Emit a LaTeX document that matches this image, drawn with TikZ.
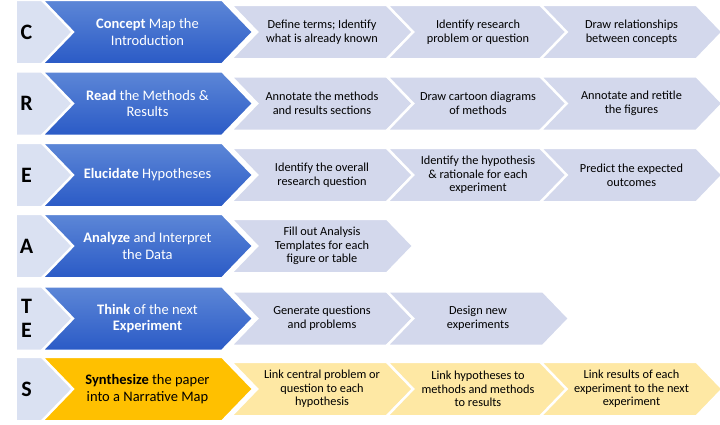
\documentclass[tikz,border=0pt]{standalone}
\usepackage{fontspec}
\setmainfont{Carlito}
\usetikzlibrary{shapes.symbols, positioning}
\definecolor{CRltr}{HTML}{DAE1F2}
\definecolor{CRgray}{HTML}{D3D8EC}
\definecolor{CRblueT}{HTML}{5D87D7}
\definecolor{CRblueB}{HTML}{2A5AC6}
\definecolor{CRgold}{HTML}{FFC000}
\definecolor{CRpale}{HTML}{FEE8A4}
\newcommand{\ltrtext}[1]{#1\hspace*{19pt}}
\tikzset{
  crshape/.style={signal, signal pointer angle=92, draw=white, line width=2.5pt,
    inner sep=0pt, align=center},
  crletter/.style={crshape, signal to=east, fill=CRltr, minimum width=72pt,
    minimum height=64.5pt, font=\fontsize{22}{24}\selectfont\bfseries},
  crmain/.style={crshape, signal from=west, signal to=east, top color=CRblueT,
    bottom color=CRblueB, text=white, minimum width=211.5pt, minimum height=64.5pt,
    font=\fontsize{14.5}{16.3}\selectfont},
  crsynth/.style={crmain, top color=CRgold, bottom color=CRgold, text=black},
  crtask/.style={crshape, signal from=west, signal to=east, fill=CRgray,
    minimum width=182.5pt, minimum height=54.5pt, font=\fontsize{12.3}{13.6}\selectfont},
  crlink/.style={crtask, fill=CRpale},
}
\begin{document}
\begin{tikzpicture}[x=1pt, y=-1pt]
  \useasboundingbox (0,0) rectangle (720,424);
  % C
  \node[crletter] (c) at (36,32) {\ltrtext{C}};
  \node[crmain] (cm) at (147.5,32) {\textbf{Concept} Map the\\Introduction};
  \node[crtask] (c1) at (322,32) {Define terms; Identify\\what is already known};
  \node[crtask] (c2) at (478,32) {Identify research\\problem or question};
  \node[crtask] (c3) at (631.5,32) {Draw relationships\\between concepts};
  % R
  \node[crletter] (r) at (36,103.5) {\ltrtext{R}};
  \node[crmain] (rm) at (147.5,103.5) {\textbf{Read} the Methods \&\\Results};
  \node[crtask] (r1) at (322,103.5) {Annotate the methods\\and results sections};
  \node[crtask] (r2) at (478,103.5) {Draw cartoon diagrams\\of methods};
  \node[crtask] (r3) at (631.5,103.5) {Annotate and retitle\\the figures};
  % E
  \node[crletter] (e) at (36,175) {\ltrtext{E}};
  \node[crmain] (em) at (147.5,175) {\textbf{Elucidate} Hypotheses};
  \node[crtask] (e1) at (322,175) {Identify the overall\\research question};
  \node[crtask] (e2) at (478,175) {Identify the hypothesis\\\& rationale for each\\experiment};
  \node[crtask] (e3) at (631.5,175) {Predict the expected\\outcomes};
  % A
  \node[crletter] (a) at (36,246) {\ltrtext{A}};
  \node[crmain] (am) at (147.5,246) {\textbf{Analyze} and Interpret\\the Data};
  \node[crtask] (a1) at (322,246) {Fill out Analysis\\Templates for each\\figure or table};
  % TE
  \node[crletter] (te) at (36,318.5) {\ltrtext{T}\\\ltrtext{E}};
  \node[crmain] (tem) at (147.5,318.5) {\textbf{Think} of the next\\\textbf{Experiment}};
  \node[crtask] (te1) at (322,318.5) {Generate questions\\and problems};
  \node[crtask] (te2) at (478,318.5) {Design new\\experiments};
  % S
  \node[crletter] (s) at (36,389) {\ltrtext{S}};
  \node[crsynth] (sm) at (147.5,389) {\textbf{Synthesize} the paper\\into a Narrative Map};
  \node[crlink] (s1) at (322,389) {Link central problem or\\question to each\\hypothesis};
  \node[crlink] (s2) at (478,389) {Link hypotheses to\\methods and methods\\to results};
  \node[crlink] (s3) at (631.5,389) {Link results of each\\experiment to the next\\experiment};
\end{tikzpicture}
\end{document}
